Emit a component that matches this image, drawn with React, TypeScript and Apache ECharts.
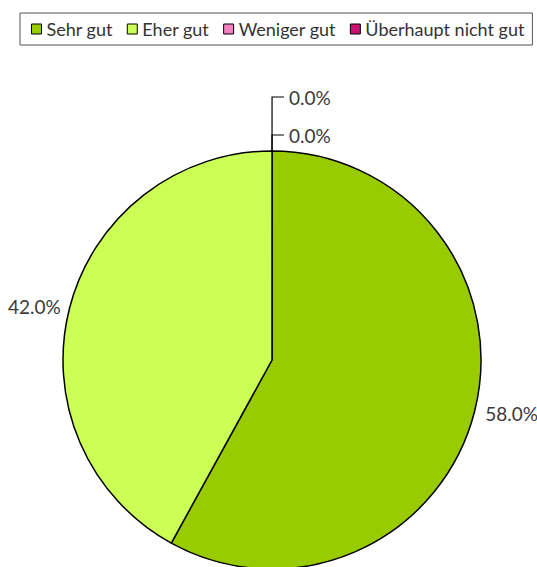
import React, { useEffect, useRef } from "react";
import * as echarts from "echarts";

const categories = ["Sehr gut", "Eher gut", "Weniger gut", "Überhaupt nicht gut"];
const values = [58.0, 42.0, 0.0, 0.0];
const colors = ["#99CC00", "#CCFF55", "#F080C0", "#CC1070"];
// drawing order: zero slices first so that their labels sit at 12 o'clock
const drawOrder = [2, 3, 0, 1];
const labelLines: Record<number, { length: number; length2: number; show: boolean }> = {
  0: { length: 6, length2: 0, show: false },
  1: { length: 4, length2: 0, show: false },
  2: { length: 54, length2: 12, show: true },
  3: { length: 16, length2: 12, show: true },
};

export default function App() {
  const ref = useRef<HTMLDivElement>(null);
  useEffect(() => {
    const chart = echarts.init(ref.current!, null, { renderer: "svg" });
    const data = drawOrder.map((i) => ({
      name: categories[i],
      value: values[i],
      itemStyle: { color: colors[i] },
      labelLine: labelLines[i],
    }));
    chart.setOption({
      animation: false,
      backgroundColor: "#ffffff",
      legend: {
        data: categories,
        top: 13,
        left: 20,
        width: 530,
        orient: "horizontal",
        icon: "rect",
        itemWidth: 10,
        itemHeight: 10,
        itemGap: 14,
        padding: [7, 8, 7, 11],
        borderColor: "#555",
        borderWidth: 1,
        borderRadius: 0,
        itemStyle: { borderColor: "#000", borderWidth: 1 },
        textStyle: { fontFamily: "Lato", fontSize: 18, color: "#333" },
      },
      series: [
        {
          type: "pie",
          center: [272, 360],
          radius: 209,
          startAngle: 89.99,
          clockwise: true,
          avoidLabelOverlap: false,
          itemStyle: { borderColor: "#000", borderWidth: 1.5 },
          emphasis: { disabled: true },
          label: {
            show: true,
            position: "outside",
            fontFamily: "Lato",
            fontSize: 19,
            color: "#3a3a3a",
            formatter: (p: any) => Number(p.value).toFixed(1) + "%",
          },
          labelLine: { lineStyle: { color: "#000", width: 1.2 }, smooth: false },
          data,
        },
      ],
    });
    return () => chart.dispose();
  }, []);
  return (
    <div
      ref={ref}
      style={{ position: "absolute", left: 0, top: 0, width: 537, height: 567 }}
    />
  );
}
